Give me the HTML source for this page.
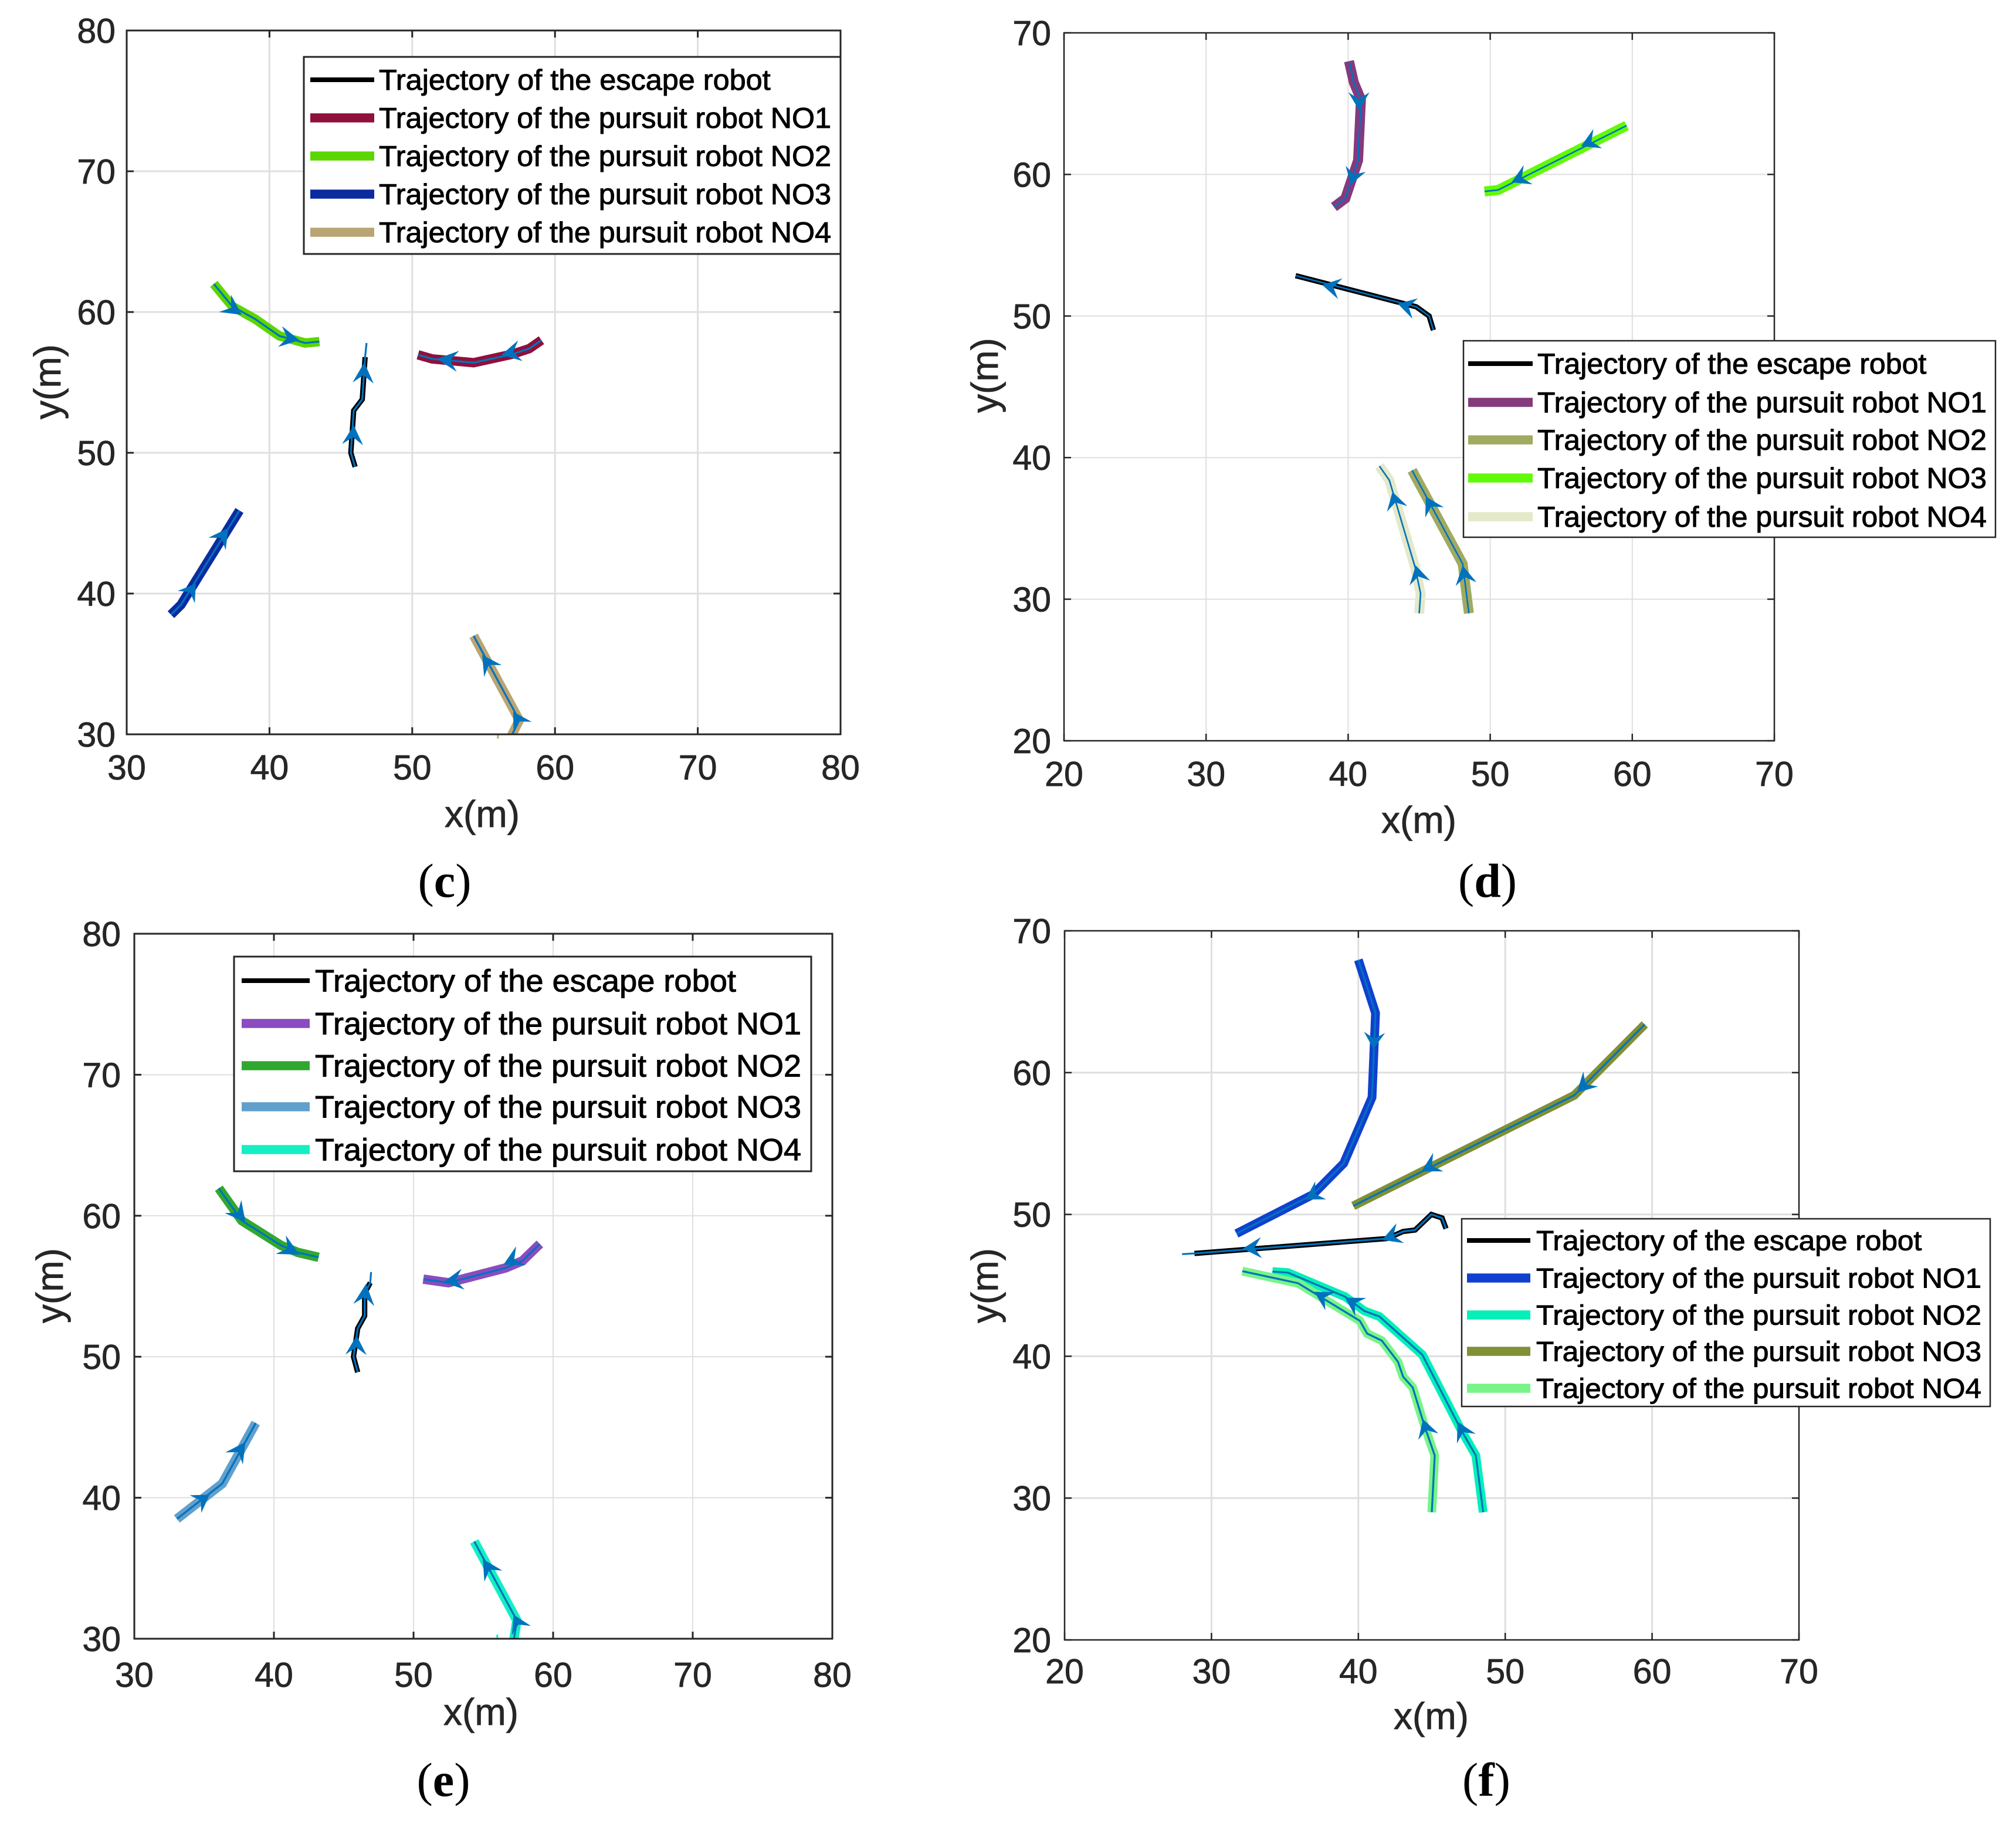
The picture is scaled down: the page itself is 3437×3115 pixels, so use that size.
<!DOCTYPE html>
<html lang="en">
<head>
<meta charset="utf-8">
<title>Robot pursuit trajectories</title>
<style>
html,body{margin:0;padding:0;background:#fff;}
svg{display:block;}
text{font-family:"Liberation Sans",Arial,sans-serif;}
.cap{font-family:"Liberation Serif","Times New Roman",serif;}
</style>
</head>
<body>
<svg id="figure" xmlns="http://www.w3.org/2000/svg" width="3437" height="3115" viewBox="0 0 3437 3115"></svg>
<script>
/* ---------- shared labels ---------- */
const seriesLabels = ['Trajectory of the escape robot','Trajectory of the pursuit robot NO1','Trajectory of the pursuit robot NO2','Trajectory of the pursuit robot NO3','Trajectory of the pursuit robot NO4'];
const ticksCDEX = [30,40,50,60,70,80];
const ticksDFX = [20,30,40,50,60,70];
const ticksCEY = [30,40,50,60,70,80];
const ticksDFY = [20,30,40,50,60,70];

/* ---------- panel (c) data ---------- */
const cEscapeX = [46,45.7,45.9,46.5,46.7];
const cEscapeY = [49,50,53,53.8,56.8];
const cEscapeGuideX = [46.8];
const cEscapeGuideY = [57.8];
const cNo1X = [59.05,58.2,57,54.3,51.4,50.4];
const cNo1Y = [58,57.4,57,56.4,56.67,56.96];
const cNo2X = [36.1,37.4,39,40.7,42.5,43.5];
const cNo2Y = [62,60.4,59.5,58.3,57.8,57.9];
const cNo3X = [33.1,33.8,37.9];
const cNo3Y = [38.5,39.2,45.9];
const cNo4X = [56.9,57.5,54.3];
const cNo4Y = [29.8,31,37];
const cStrayX = [56,56];
const cStrayY = [29.7,30];
const cArrowTipX = [45.9,46.64,51.73,56.25,38.06,42.1,34.84,37.12,54.9,57.07];
const cArrowTipY = [51.96,56.42,56.67,56.96,59.8,58,40.7,44.65,35.64,31.6];
const cArrowTailX = [45.82,46.56,53.2,57.57,36.88,40.74,34.17,36.33,55.65,57.73];
const cArrowTailY = [50.58,54.96,56.5,57.25,60.62,58.26,39.75,43.53,34.5,30.5];

/* ---------- panel (d) data ---------- */
const dEscapeX = [36.3,44.8,45.7,46];
const dEscapeY = [52.85,50.65,50,49];
const dNo1X = [40.06,40.4,40.9,40.7,39.8,39];
const dNo1Y = [68,66.5,65.3,61,58.3,57.7];
const dNo2X = [44.5,48.06,48.5];
const dNo2Y = [39.1,32.5,29];
const dNo3X = [59.6,50.55,49.6];
const dNo3Y = [63.45,58.9,58.8];
const dNo4X = [42.2,42.9,44.7,45.1,45];
const dNo4Y = [39.4,38.4,32.3,30.4,29];
const dArrowTipX = [40.76,40.2,56.4,51.5,38.17,43.5,45.47,48.06,43.12,44.76];
const dArrowTipY = [64.55,59.3,62,59.44,52.2,50.86,37.24,32.38,37.57,32.38];
const dArrowTailX = [40.76,40.53,57.57,52.67,39.44,44.72,46.08,48.3,43.45,45.05];
const dArrowTailY = [65.8,60.4,62.53,59.98,51.93,50.53,36.13,31.06,36.38,31.14];

/* ---------- panel (e) data ---------- */
const eEscapeX = [46,45.7,46,46.5,46.5,46.9];
const eEscapeY = [48.9,50,52,52.9,54.5,55.25];
const eEscapeGuideX = [46.96];
const eEscapeGuideY = [56];
const eNo1X = [50.7,52.5,56.6,57.8,59.05];
const eNo1Y = [55.5,55.25,56.3,56.8,58];
const eNo2X = [36.05,37.7,40.5,41.7,43.2];
const eNo2Y = [61.95,59.65,57.9,57.4,57.05];
const eNo3X = [33.05,36.3,38.7];
const eNo3Y = [38.5,41,45.3];
const eNo4X = [54.35,57.4,57.2];
const eNo4Y = [36.9,31.3,30];
const eStrayX = [56,56];
const eStrayY = [30,30.3];
const eArrowTipX = [45.92,46.6,52.15,56.45,37.96,41.82,35.39,37.96,54.96,57.17];
const eArrowTipY = [51.51,55.17,55.29,56.54,59.53,57.24,40.21,43.95,35.65,31.7];
const eArrowTailX = [45.88,46.44,53.55,57.69,37.07,40.49,34.38,37.15,55.72,57.73];
const eArrowTailY = [50.14,53.67,55.5,57.16,60.65,57.95,39.55,42.79,34.44,30.58];

/* ---------- panel (f) data ---------- */
const fEscapeX = [45.97,45.7,44.97,43.86,43.05,41.94,28.84];
const fEscapeY = [49,49.75,50,48.9,48.8,48.3,47.25];
const fEscapeGuideX = [28];
const fEscapeGuideY = [47.2];
const fNo1X = [40,41.17,40.93,39,36.9,31.7];
const fNo1Y = [67.95,64.2,58.25,53.6,51.4,48.65];
const fNo2X = [34.15,35.2,39.1,40.4,41.44,44.36,47,48,48.5];
const fNo2Y = [45.97,45.9,44.2,43.2,42.8,40.1,34.8,33,29];
const fNo3X = [59.5,54.7,39.65];
const fNo3Y = [63.4,58.4,50.6];
const fNo4X = [32.1,35.9,40.1,40.6,41.6,42.7,43.05,43.7,44.5,45.2,45];
const fNo4Y = [46,45.15,42.5,41.6,41.1,39.6,38.55,37.8,35.1,33,29];
const fArrowTipX = [41.03,36.4,54.88,44.3,41.61,32.13,39.09,46.75,37,44.4];
const fArrowTipY = [61.67,51.05,58.59,53.04,48.2,47.59,44.13,35.39,44.54,35.56];
const fArrowTailX = [41.1,37.44,55.82,45.44,42.85,33.4,40.16,47.35,38.11,44.77];
const fArrowTailY = [62.84,51.7,59.55,53.69,48.68,47.66,43.47,34.19,43.89,34.33];

/* ---------- layout & style, separate from the data ---------- */
const panels = [
 {key:'c',box:[216,1433,52,1252],xr:[30,80],yr:[30,80],xt:ticksCDEX,yt:ticksCEY,border:3,grid:3,wide:16,guideW:3.2,
  colors:['#000000','#8f103c','#5bd600','#0c2ba0','#b9a574'],
  series:[[cEscapeX,cEscapeY],[cNo1X,cNo1Y],[cNo2X,cNo2Y],[cNo3X,cNo3Y],[cNo4X,cNo4Y]],
  guideX:cEscapeGuideX,guideY:cEscapeGuideY,strayX:cStrayX,strayY:cStrayY,
  tipX:cArrowTipX,tipY:cArrowTipY,tailX:cArrowTailX,tailY:cArrowTailY,
  leg:{l:518,r:1433,t:97,b:433,lx0:529,lx1:638,tx:646,tw:771,fs:49,rows:[136,201,266,331,396]},
  xBase:1329,yRight:197,xLab:[822,1410],yLab:[83,651],cap:[758,1529],label:'c'},
 {key:'d',box:[1814,3025,56,1263],xr:[20,70],yr:[20,70],xt:ticksDFX,yt:ticksDFY,border:2.5,grid:2,wide:17,guideW:2.6,
  colors:['#000000','#853a7d','#a0aa60','#62f90a','#e3e9c9'],
  series:[[dEscapeX,dEscapeY],[dNo1X,dNo1Y],[dNo2X,dNo2Y],[dNo3X,dNo3Y],[dNo4X,dNo4Y]],
  guideX:[],guideY:[],strayX:[],strayY:[],
  tipX:dArrowTipX,tipY:dArrowTipY,tailX:dArrowTailX,tailY:dArrowTailY,
  leg:{l:2495,r:3402,t:581,b:916,lx0:2503,lx1:2613,tx:2621,tw:766,fs:49,rows:[620,686,750,815,881]},
  xBase:1340,yRight:1792,xLab:[2419,1420],yLab:[1681,640],cap:[2536,1529],label:'d'},
 {key:'e',box:[229,1419,1592,2794],xr:[30,80],yr:[30,80],xt:ticksCDEX,yt:ticksCEY,border:3,grid:2,wide:16,guideW:3.2,
  colors:['#000000','#8a4cc0','#30a830','#62a0cc','#14efc4'],
  series:[[eEscapeX,eEscapeY],[eNo1X,eNo1Y],[eNo2X,eNo2Y],[eNo3X,eNo3Y],[eNo4X,eNo4Y]],
  guideX:eEscapeGuideX,guideY:eEscapeGuideY,strayX:eStrayX,strayY:eStrayY,
  tipX:eArrowTipX,tipY:eArrowTipY,tailX:eArrowTailX,tailY:eArrowTailY,
  leg:{l:399,r:1383,t:1631,b:1997,lx0:412,lx1:528,tx:537,tw:829,fs:53,rows:[1672,1745,1817,1887,1960]},
  xBase:2876,yRight:206,xLab:[820,2941],yLab:[87,2192],cap:[756,3062],label:'e'},
 {key:'f',box:[1815,3067,1587,2796],xr:[20,70],yr:[20,70],xt:ticksDFX,yt:ticksDFY,border:2.5,grid:3,wide:15,guideW:3.2,
  colors:['#000000','#1040d0','#06efb8','#809036','#78f488'],
  series:[[fEscapeX,fEscapeY],[fNo1X,fNo1Y],[fNo2X,fNo2Y],[fNo3X,fNo3Y],[fNo4X,fNo4Y]],
  guideX:fEscapeGuideX,guideY:fEscapeGuideY,strayX:[],strayY:[],
  tipX:fArrowTipX,tipY:fArrowTipY,tailX:fArrowTailX,tailY:fArrowTailY,
  leg:{l:2492,r:3393,t:2078,b:2398,lx0:2501,lx1:2609,tx:2619,tw:759,fs:47,rows:[2115,2179,2242,2304,2367]},
  xBase:2870,yRight:1792,xLab:[2440,2948],yLab:[1681,2192],cap:[2534,3062],label:'f'}
];

const NS = 'http://www.w3.org/2000/svg';
const svg = document.getElementById('figure');
const AXIS = '#262626', GUIDE = '#0072bd';

function make(parent, tag, attrs, txt){
  const el = document.createElementNS(NS, tag);
  for (const k in attrs) el.setAttribute(k, attrs[k]);
  if (txt !== undefined) el.textContent = txt;
  parent.appendChild(el);
  return el;
}

panels.forEach(p => {
  const [L,R,T,B] = p.box;
  const sx = v => L + (v - p.xr[0]) / (p.xr[1] - p.xr[0]) * (R - L);
  const sy = v => B - (v - p.yr[0]) / (p.yr[1] - p.yr[0]) * (B - T);

  const g = make(svg, 'g', {});
  
  

  const clip = make(g, 'clipPath', {id:'clip-' + p.key});
  make(clip, 'rect', {x:L, y:T, width:R-L, height:B-T});

  make(g, 'rect', {x:L, y:T, width:R-L, height:B-T, fill:'#fff'});

  /* grid */
  const gridG = make(g, 'g', {stroke:'#dfdfdf','stroke-width':p.grid});
  
  
  p.xt.slice(1,-1).forEach(t => make(gridG, 'line', {x1:sx(t),x2:sx(t),y1:T,y2:B}));
  p.yt.slice(1,-1).forEach(t => make(gridG, 'line', {x1:L,x2:R,y1:sy(t),y2:sy(t)}));

  /* series */
  const plot = make(g, 'g', {'clip-path':'url(#clip-' + p.key + ')'});
  p.series.forEach((s,i) => {
    const pts = s[0].map((x,j) => sx(x) + ',' + sy(s[1][j])).join(' ');
    const line = make(plot, 'polyline', {points:pts, fill:'none', stroke:p.colors[i],
      'stroke-width': i === 0 ? 9 : p.wide, 'stroke-linejoin':'miter', 'stroke-linecap':'butt'});
    
    
  });
  p.series.forEach((s,i) => {
    let xs = s[0], ys = s[1];
    if (i === 0) { xs = xs.concat(p.guideX); ys = ys.concat(p.guideY); }
    const pts = xs.map((x,j) => sx(x) + ',' + sy(ys[j])).join(' ');
    const guide = make(plot, 'polyline', {points:pts, fill:'none', stroke:GUIDE, 'stroke-width':p.guideW});
    
    
  });

  /* small stray mark near the axis */
  if (p.strayX.length) {
    const stray = make(g, 'line', {x1:sx(p.strayX[0]), x2:sx(p.strayX[1]), y1:sy(p.strayY[0]), y2:sy(p.strayY[1]), stroke:p.colors[4], 'stroke-width':3});
    
    
  }

  /* arrows */
  p.tipX.forEach((tx,i) => {
    const x0 = sx(tx), y0 = sy(p.tipY[i]);
    const x1 = sx(p.tailX[i]), y1 = sy(p.tailY[i]);
    const dx = x1 - x0, dy = y1 - y0, len = Math.hypot(dx,dy) || 1;
    const ux = dx/len, uy = dy/len, hw = 18;
    const poly = [[x0,y0],[x1 - uy*hw, y1 + ux*hw],[x0 + dx*0.62, y0 + dy*0.62],[x1 + uy*hw, y1 - ux*hw]];
    const arrow = make(g, 'polygon', {points:poly.map(q => q.join(',')).join(' '), fill:GUIDE});
    
    
  });

  /* axes box and ticks */
  const axG = make(g, 'g', {stroke:AXIS,'stroke-width':p.border,fill:'none'});
  
  
  make(axG, 'rect', {x:L, y:T, width:R-L, height:B-T});
  p.xt.forEach(t => {
    make(axG, 'line', {x1:sx(t),x2:sx(t),y1:B,y2:B-12});
    make(axG, 'line', {x1:sx(t),x2:sx(t),y1:T,y2:T+12});
  });
  p.yt.forEach(t => {
    make(axG, 'line', {x1:L,x2:L+12,y1:sy(t),y2:sy(t)});
    make(axG, 'line', {x1:R,x2:R-12,y1:sy(t),y2:sy(t)});
  });

  /* tick labels */
  p.xt.forEach(t => {
    const el = make(g, 'text', {x:sx(t), y:p.xBase, 'text-anchor':'middle', 'font-size':59, fill:AXIS, stroke:AXIS, 'stroke-width':0.8}, String(t));
    
    
  });
  p.yt.forEach(t => {
    const el = make(g, 'text', {x:p.yRight, y:sy(t)+21, 'text-anchor':'end', 'font-size':59, fill:AXIS, stroke:AXIS, 'stroke-width':0.8}, String(t));
    
    
  });

  /* axis titles */
  const xt = make(g, 'text', {x:p.xLab[0], y:p.xLab[1], 'text-anchor':'middle', 'font-size':64, fill:AXIS, stroke:AXIS, 'stroke-width':0.8}, 'x(m)');
  
  
  const yt = make(g, 'text', {transform:'translate(' + (p.yLab[0]+20) + ' ' + p.yLab[1] + ') rotate(-90)', 'text-anchor':'middle', 'font-size':64, fill:AXIS, stroke:AXIS, 'stroke-width':0.8}, 'y(m)');
  
  

  /* legend */
  const lg = p.leg;
  const legG = make(g, 'g', {});
  
  
  make(legG, 'rect', {x:lg.l, y:lg.t, width:lg.r-lg.l, height:lg.b-lg.t, fill:'#fff', stroke:AXIS, 'stroke-width':p.border});
  seriesLabels.forEach((name,i) => {
    const entry = make(legG, 'g', {});
    
    
    make(entry, 'line', {x1:lg.lx0, x2:lg.lx1, y1:lg.rows[i], y2:lg.rows[i], stroke:p.colors[i], 'stroke-width': i === 0 ? 8 : 15.5});
    make(entry, 'text', {x:lg.tx, y:lg.rows[i] + lg.fs*0.35, 'font-size':lg.fs, fill:'#000', stroke:'#000', 'stroke-width':1,
      textLength: i === 0 ? lg.tw*0.866 : lg.tw, lengthAdjust:'spacingAndGlyphs'}, name);
  });

  /* caption */
  const cap = make(g, 'text', {class:'cap', x:p.cap[0], y:p.cap[1], 'text-anchor':'middle', 'font-size':82, fill:'#000'});
  
  
  make(cap, 'tspan', {}, '(');
  make(cap, 'tspan', {'font-weight':'bold'}, p.label);
  make(cap, 'tspan', {}, ')');
});
</script>
</body>
</html>
